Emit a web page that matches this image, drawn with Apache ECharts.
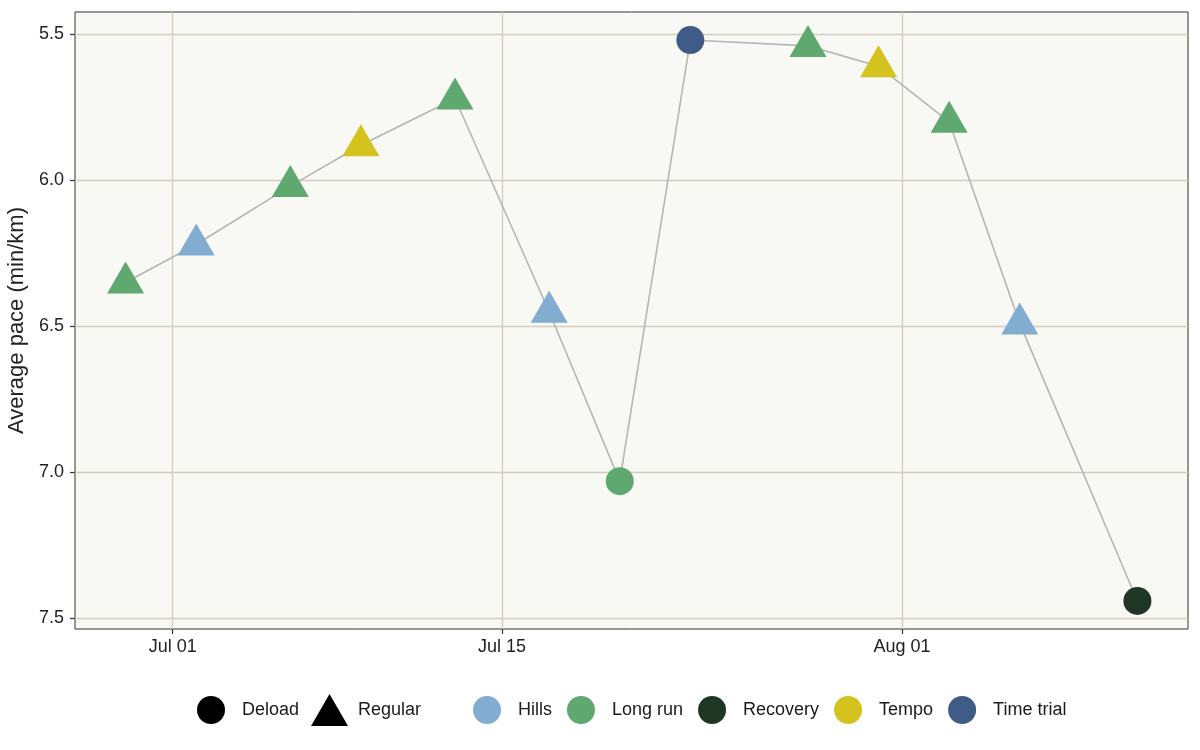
<!DOCTYPE html>
<html>
<head>
<meta charset="utf-8">
<script src="https://cdn.jsdelivr.net/npm/echarts@6/dist/echarts.min.js"></script>
<style>
  html, body { margin: 0; padding: 0; background: #fff; }
  #main { width: 1200px; height: 750px; }
</style>
</head>
<body>
<div id="main"></div>
<script>
// run log
var dates = ['2024-06-29', '2024-07-02', '2024-07-06', '2024-07-09', '2024-07-13', '2024-07-17', '2024-07-20',
             '2024-07-23', '2024-07-28', '2024-07-31', '2024-08-03', '2024-08-06', '2024-08-11'];
var pace = [6.35, 6.22, 6.02, 5.88, 5.72, 6.45, 7.03, 5.52, 5.54, 5.61, 5.80, 6.49, 7.44];
var session = ['Long run', 'Hills', 'Long run', 'Tempo', 'Long run', 'Hills', 'Long run',
               'Time trial', 'Long run', 'Tempo', 'Long run', 'Hills', 'Recovery'];
var load = ['Regular', 'Regular', 'Regular', 'Regular', 'Regular', 'Regular', 'Deload',
            'Deload', 'Regular', 'Regular', 'Regular', 'Regular', 'Deload'];

var sessionTypes = ['Hills', 'Long run', 'Recovery', 'Tempo', 'Time trial'];
var sessionColors = ['#82ACD0', '#5FA870', '#1F3624', '#D4C21E', '#3E5C86'];
var xTicks = ['2024-07-01', '2024-07-15', '2024-08-01'];
var yTicks = [5.5, 6.0, 6.5, 7.0, 7.5];
var months = ['Jan', 'Feb', 'Mar', 'Apr', 'May', 'Jun', 'Jul', 'Aug', 'Sep', 'Oct', 'Nov', 'Dec'];

function ts(s) {
    var p = s.split('-');
    return new Date(+p[0], +p[1] - 1, +p[2]).getTime();
}

var times = dates.map(ts);
var tMin = Math.min.apply(null, times), tMax = Math.max.apply(null, times);
var pMin = Math.min.apply(null, pace), pMax = Math.max.apply(null, pace);
var tPad = (tMax - tMin) * 0.05, pPad = (pMax - pMin) * 0.05;

var font = 'Liberation Sans, Arial, Helvetica, sans-serif';

var series = [{
    name: 'path',
    type: 'line',
    data: times.map(function (t, i) { return [t, pace[i]]; }),
    showSymbol: false,
    symbol: 'none',
    lineStyle: { color: '#B5B5B5', width: 1.6 },
    z: 1,
    silent: true
}];

sessionTypes.forEach(function (type, k) {
    var pts = [];
    times.forEach(function (t, i) {
        if (session[i] !== type) return;
        if (load[i] === 'Deload') {
            pts.push({ value: [t, pace[i]], symbol: 'circle', symbolSize: 28 });
        } else {
            pts.push({ value: [t, pace[i]], symbol: 'triangle', symbolSize: [37, 32], symbolOffset: [0, -5] });
        }
    });
    series.push({
        name: type,
        type: 'scatter',
        data: pts,
        itemStyle: { color: sessionColors[k], opacity: 1 },
        z: 3
    });
});

// legend-only series for the shape key
series.push({ name: 'Deload', type: 'scatter', data: [], symbol: 'circle', itemStyle: { color: '#000', opacity: 1 } });
series.push({ name: 'Regular', type: 'scatter', data: [], symbol: 'triangle', itemStyle: { color: '#000', opacity: 1 } });

var legendText = { fontSize: 18, color: '#1a1a1a', fontFamily: font, padding: [0, 0, 0, 12] };

var myChart = echarts.init(document.getElementById('main'));
myChart.setOption({
    animation: false,
    backgroundColor: '#fff',
    grid: {
        left: 75, right: 12, top: 12, bottom: 121,
        outerBoundsMode: 'none',
        show: true,
        backgroundColor: '#F8F8F4',
        borderColor: '#333',
        borderWidth: 1
    },
    xAxis: {
        type: 'value',
        min: tMin - tPad,
        max: tMax + tPad,
        axisLine: { show: false },
        axisTick: {
            show: true, length: 5,
            customValues: xTicks.map(ts),
            lineStyle: { color: '#333', width: 1.2 }
        },
        axisLabel: {
            customValues: xTicks.map(ts),
            margin: 9,
            fontSize: 18, color: '#222', fontFamily: font,
            formatter: function (v) {
                var d = new Date(v);
                var dd = d.getDate();
                return months[d.getMonth()] + ' ' + (dd < 10 ? '0' + dd : dd);
            }
        },
        splitLine: { show: true, lineStyle: { color: '#D3CCBF', width: 1.3 } }
    },
    yAxis: {
        type: 'value',
        inverse: true,
        min: pMin - pPad,
        max: pMax + pPad,
        name: 'Average pace (min/km)',
        nameLocation: 'middle',
        nameGap: 34,
        nameTextStyle: { fontSize: 22, color: '#222', fontFamily: font },
        axisLine: { show: false },
        axisTick: {
            show: true, length: 5,
            customValues: yTicks,
            lineStyle: { color: '#333', width: 1.2 }
        },
        axisLabel: {
            customValues: yTicks,
            margin: 11,
            fontSize: 18, color: '#222', fontFamily: font,
            formatter: function (v) { return v.toFixed(1); }
        },
        splitLine: { show: true, lineStyle: { color: '#D3CCBF', width: 1.3 } }
    },
    legend: [{
        data: [{ name: 'Deload', icon: 'circle', itemStyle: { color: '#000', opacity: 1 } }],
        left: 197, top: 696, padding: 0,
        itemWidth: 28, itemHeight: 28,
        selectedMode: false,
        textStyle: legendText
    }, {
        data: [{ name: 'Regular', icon: 'triangle', itemStyle: { color: '#000', opacity: 1 } }],
        left: 311, top: 694, padding: 0,
        itemWidth: 37, itemHeight: 32,
        selectedMode: false,
        textStyle: { fontSize: 18, color: '#1a1a1a', fontFamily: font, padding: [0, 0, 0, 5] }
    }, {
        data: sessionTypes.map(function (n) { return { name: n, icon: 'circle' }; }),
        left: 473, top: 696, padding: 0,
        itemWidth: 28, itemHeight: 28, itemGap: 15,
        selectedMode: false,
        textStyle: legendText
    }],
    series: series
});
</script>
</body>
</html>
